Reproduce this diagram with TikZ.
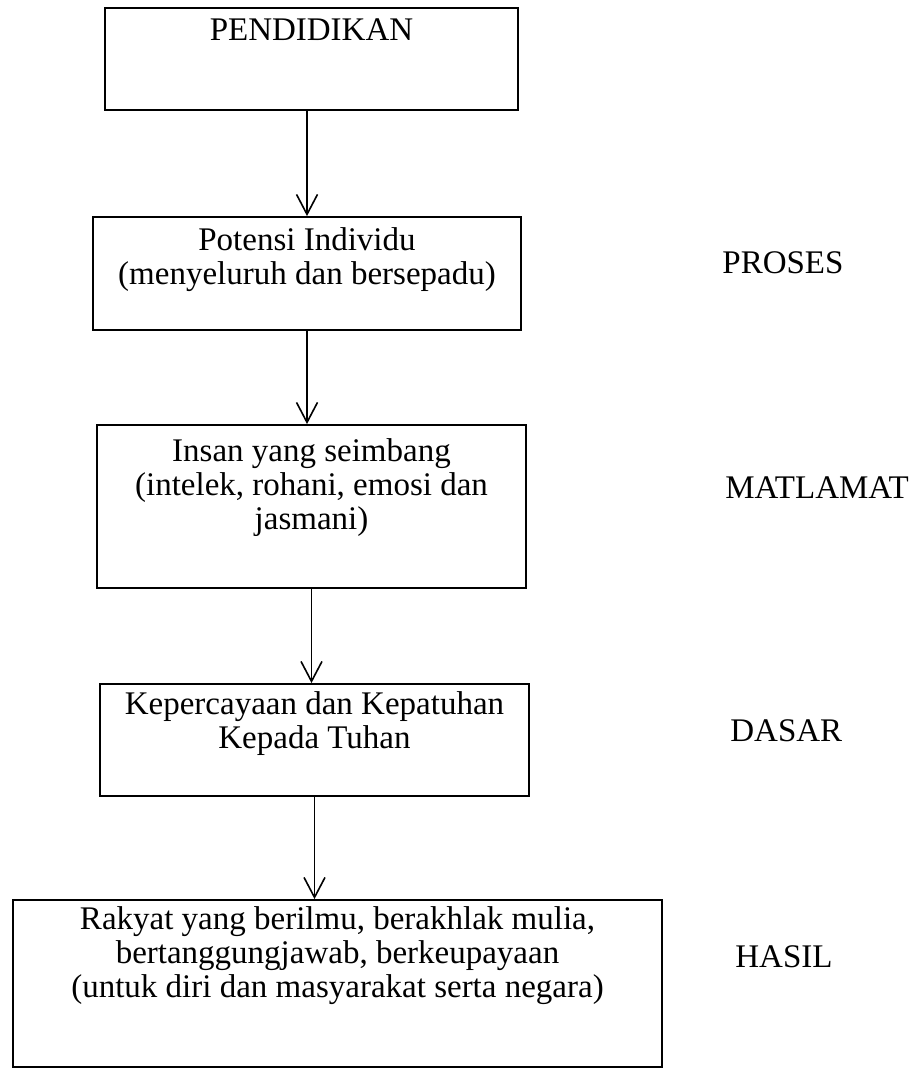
\documentclass[tikz,border=0pt]{standalone}
\usepackage{fontspec}
\setmainfont{Liberation Serif}
\usetikzlibrary{arrows.meta}

\tikzset{
  kotak/.style={draw, line width=0.9pt, inner sep=0pt},
  teks/.style={anchor=north, inner sep=0pt, align=center, font=\fontsize{16.5}{17}\selectfont},
  sisi/.style={anchor=base west, inner sep=0pt, font=\fontsize{16.5}{17}\selectfont},
  panah/.style={-{Straight Barb[length=10pt,width=10.5pt]}, line width=0.8pt}
}

\begin{document}
\begin{tikzpicture}[x=0.5pt, y=-0.5pt] %1 unit = 1 piksel gambar asal
  \useasboundingbox (0,0) rectangle (919,1070);
    %Kotak
  \node[kotak, minimum width=206.5pt, minimum height=51pt] (b1) at (311.5,59) {};
  \node[kotak, minimum width=214pt, minimum height=56.5pt] (b2) at (307,273.5) {};
  \node[kotak, minimum width=214.5pt, minimum height=81.5pt] (b3) at (311.5,506.5) {};
  \node[kotak, minimum width=214.5pt, minimum height=56pt] (b4) at (314.5,740) {};
  \node[kotak, minimum width=324.5pt, minimum height=83.5pt] (b5) at (337.5,983.5) {};
    %Teks dalam kotak
  \node[teks] (t1) at ([yshift=-5.5pt]b1.north) {PENDIDIKAN};
  \node[teks] (t2) at ([yshift=-5.5pt]b2.north) {Potensi Individu\\(menyeluruh dan bersepadu)};
  \node[teks] (t3) at ([yshift=-7pt]b3.north) {Insan yang seimbang\\(intelek, rohani, emosi dan\\jasmani)};
  \node[teks] (t4) at ([yshift=-4pt]b4.north) {Kepercayaan dan Kepatuhan\\Kepada Tuhan};
  \node[teks] (t5) at ([yshift=-3.5pt]b5.north) {Rakyat yang berilmu, berakhlak mulia,\\bertanggungjawab, berkeupayaan\\(untuk diri dan masyarakat serta negara)};
    %Anak panah
  \draw[panah] (b1.south -| b2.north) -- (b2.north);
  \draw[panah] (b2.south) -- (b2.south |- b3.north);
  \draw[panah] (b3.south) -- (b3.south |- b4.north);
  \draw[panah] (b4.south) -- (b4.south |- b5.north);
    %Label kanan
  \node[sisi] (proses) at (722,273) {PROSES};
  \node[sisi] (matlamat) at (725,498) {MATLAMAT};
  \node[sisi] (dasar) at (730,741) {DASAR};
  \node[sisi] (hasil) at (735,967) {HASIL};
\end{tikzpicture}
\end{document}
